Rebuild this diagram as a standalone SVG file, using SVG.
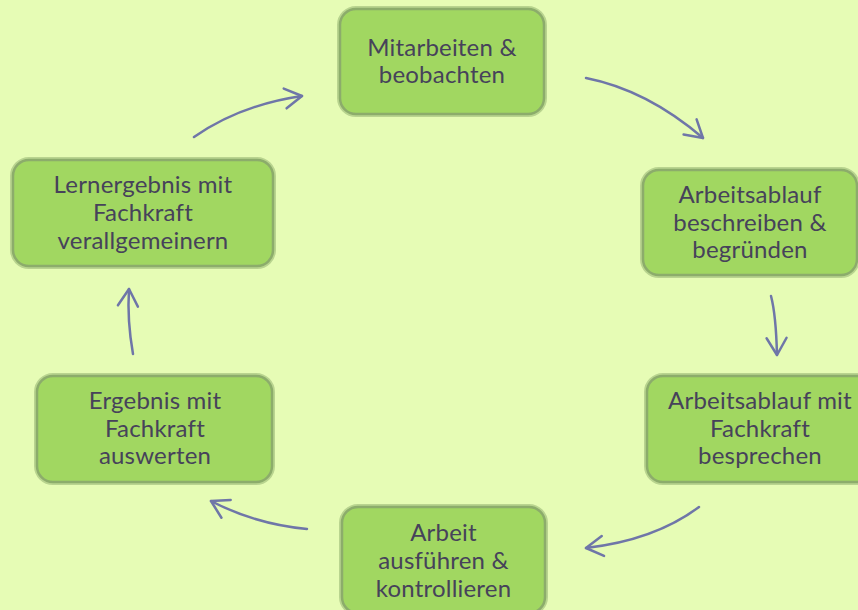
<svg xmlns="http://www.w3.org/2000/svg" width="858" height="610" viewBox="0 0 858 610">
<style>
.box{fill:#A1D761;stroke:#8CAC6B;stroke-width:2.5}
.halo{fill:none;stroke:#B9D48F;stroke-width:6}
.t{font-family:Lato,"Liberation Sans",sans-serif;font-size:24px;letter-spacing:0.2px;fill:#46425A;text-anchor:middle}
.c{fill:none;stroke:#6F76A8;stroke-width:2.5;stroke-linecap:round}
</style>
<defs>
<marker id="ah" markerUnits="userSpaceOnUse" markerWidth="40" markerHeight="40" refX="0" refY="0" viewBox="-25 -20 35 40" orient="auto" overflow="visible">
<path d="M-17,-10 L0,0 L-17,10" fill="none" stroke="#6F76A8" stroke-width="2.5" stroke-linecap="round" stroke-linejoin="round"/>
</marker>
</defs>
<rect width="858" height="610" fill="#E6FCB5"/>
<g id="connectors">
<path class="c" d="M586,78 Q647,90 703,138" marker-end="url(#ah)"/>
<path class="c" d="M771,296 Q776,315 777,355" marker-end="url(#ah)"/>
<path class="c" d="M699,507 Q655,540 586,548" marker-end="url(#ah)"/>
<path class="c" d="M307,529 Q255,524 211,501" marker-end="url(#ah)"/>
<path class="c" d="M133,354 Q127,320 129,289" marker-end="url(#ah)"/>
<path class="c" d="M194,137 Q240,105 302,96" marker-end="url(#ah)"/>
</g>
<g id="n1">
<rect class="halo" x="340" y="9" width="204" height="105" rx="16"/>
<rect class="box" x="340" y="9" width="204" height="105" rx="16"/>
<text class="t" x="442" y="56">Mitarbeiten &amp;</text>
<text class="t" x="442" y="83">beobachten</text>
</g>
<g id="n2">
<rect class="halo" x="643" y="170" width="214" height="105" rx="16"/>
<rect class="box" x="643" y="170" width="214" height="105" rx="16"/>
<text class="t" x="750" y="203">Arbeitsablauf</text>
<text class="t" x="750" y="231">beschreiben &amp;</text>
<text class="t" x="750" y="258">begründen</text>
</g>
<g id="n3">
<rect class="halo" x="647" y="376" width="226" height="106" rx="16"/>
<rect class="box" x="647" y="376" width="226" height="106" rx="16"/>
<text class="t" x="760" y="409">Arbeitsablauf mit</text>
<text class="t" x="760" y="437">Fachkraft</text>
<text class="t" x="760" y="464">besprechen</text>
</g>
<g id="n4">
<rect class="halo" x="342" y="507" width="203" height="106" rx="16"/>
<rect class="box" x="342" y="507" width="203" height="106" rx="16"/>
<text class="t" x="443.5" y="541">Arbeit</text>
<text class="t" x="443.5" y="569">ausführen &amp;</text>
<text class="t" x="443.5" y="597">kontrollieren</text>
</g>
<g id="n5">
<rect class="halo" x="37" y="376" width="235" height="106" rx="16"/>
<rect class="box" x="37" y="376" width="235" height="106" rx="16"/>
<text class="t" x="155" y="409">Ergebnis mit</text>
<text class="t" x="155" y="437">Fachkraft</text>
<text class="t" x="155" y="464">auswerten</text>
</g>
<g id="n6">
<rect class="halo" x="13" y="160" width="260" height="106" rx="16"/>
<rect class="box" x="13" y="160" width="260" height="106" rx="16"/>
<text class="t" x="143" y="193">Lernergebnis mit</text>
<text class="t" x="143" y="221">Fachkraft</text>
<text class="t" x="143" y="249">verallgemeinern</text>
</g>
</svg>
